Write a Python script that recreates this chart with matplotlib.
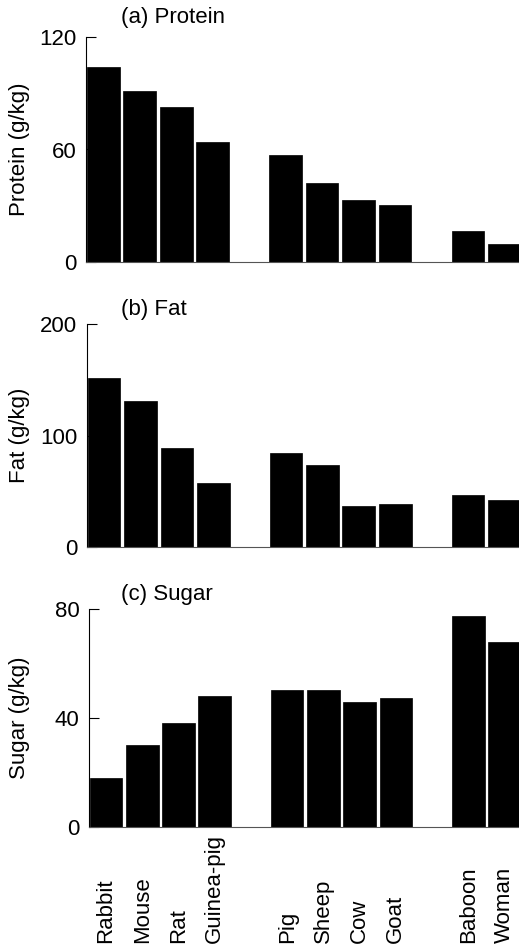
import matplotlib.pyplot as plt

plt.rcParams['font.family'] = ['Liberation Sans', 'DejaVu Sans']

animals = ["Rabbit", "Mouse", "Rat", "Guinea-pig",
           "Pig", "Sheep", "Cow", "Goat",
           "Baboon", "Woman"]
slots = [0, 1, 2, 3, 5, 6, 7, 8, 10, 11]

protein = [104, 91, 82.5, 64, 57, 42, 33, 30.5, 16.5, 9.5]
fat = [152, 131, 89, 57, 84, 73.5, 37, 38.5, 46.5, 42]
sugar = [18, 30, 38.2, 48, 50.3, 50.3, 46, 47.4, 77.4, 68]

panels = [
    ("(a) Protein", "Protein (g/kg)", protein, 120, [0, 60, 120]),
    ("(b) Fat", "Fat (g/kg)", fat, 200, [0, 100, 200]),
    ("(c) Sugar", "Sugar (g/kg)", sugar, 80, [0, 40, 80]),
]

W, H = 519, 946
FS = 16
fig = plt.figure(figsize=(W / 100, H / 100), dpi=100)

# (top px, bottom px, left px, title gap px) for each panel
boxes = [(37, 262, 86, 9), (324, 547, 87, 4), (609, 827, 89, 4)]

for (title, ylabel, vals, ymax, ticks), (top, bot, left, gap) in zip(panels, boxes):
    ax = fig.add_axes([left / W, 1 - bot / H, (W - left) / W, (bot - top) / H])
    ax.bar(slots, vals, width=0.9, color="black", edgecolor="black", linewidth=0.5)
    ax.set_xlim(-0.47, 11.4)
    ax.set_ylim(0, ymax)
    ax.set_yticks(ticks)
    ax.set_xticks([])
    ax.tick_params(axis="y", direction="in", length=7, width=0.8, labelsize=FS, pad=7)
    for s in ["top", "right"]:
        ax.spines[s].set_visible(False)
    ax.spines["left"].set_linewidth(0.8)
    ax.spines["bottom"].set_linewidth(0.8)
    ax.spines["bottom"].set_color("#555555")
    ax.set_ylabel(ylabel, fontsize=FS)
    ax.yaxis.set_label_coords((30 - left) / (W - left), 0.5)
    ax.text((121 - left) / (W - left), 1 + gap / (bot - top), title,
            transform=ax.transAxes, fontsize=FS, ha="left", va="bottom")

# rotated category labels, bottom-aligned under the last panel
for name, s in zip(animals, slots):
    ax.text(s, -(943 - 827) / (827 - 609), name, transform=ax.get_xaxis_transform(),
            rotation=90, ha="center", va="bottom", fontsize=FS)

fig.savefig("out.png", dpi=100)
